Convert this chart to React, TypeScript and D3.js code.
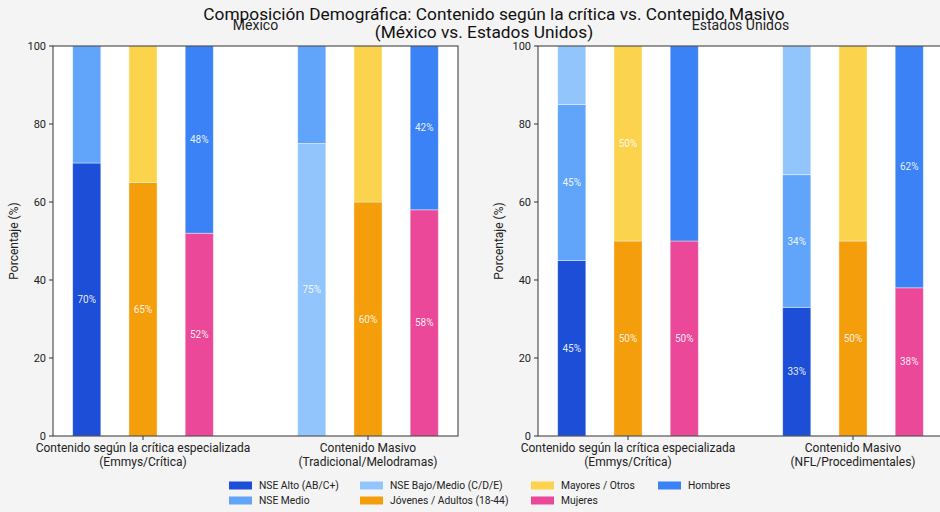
import React from "react";
import * as d3 from "d3";

// ---------- DATA ----------
const chartTitle = [
  "Composición Demográfica: Contenido según la crítica vs. Contenido Masivo",
  "(México vs. Estados Unidos)",
];
const countries = ["México", "Estados Unidos"];
const categoriesMX = [
  ["Contenido según la crítica especializada", "(Emmys/Crítica)"],
  ["Contenido Masivo", "(Tradicional/Melodramas)"],
];
const categoriesUS = [
  ["Contenido según la crítica especializada", "(Emmys/Crítica)"],
  ["Contenido Masivo", "(NFL/Procedimentales)"],
];
const yTicks = [0, 20, 40, 60, 80, 100];

const seriesKeys = [
  "NSE Alto (AB/C+)",
  "NSE Medio",
  "NSE Bajo/Medio (C/D/E)",
  "Jóvenes / Adultos (18-44)",
  "Mayores / Otros",
  "Mujeres",
  "Hombres",
];
const seriesColors = [
  "#1d4ed8",
  "#60a5fa",
  "#93c5fd",
  "#f59e0b",
  "#fcd34d",
  "#ec4899",
  "#3b82f6",
];

type Seg = { key: number; value: number; label: string };

// [bar] -> stacked segments (bottom to top)
const mexicoCritic: Seg[][] = [
  [ { key: 0, value: 70, label: "70%" }, { key: 1, value: 30, label: "" } ],
  [ { key: 3, value: 65, label: "65%" }, { key: 4, value: 35, label: "" } ],
  [ { key: 5, value: 52, label: "52%" }, { key: 6, value: 48, label: "48%" } ],
];
const mexicoMasivo: Seg[][] = [
  [ { key: 2, value: 75, label: "75%" }, { key: 1, value: 25, label: "" } ],
  [ { key: 3, value: 60, label: "60%" }, { key: 4, value: 40, label: "" } ],
  [ { key: 5, value: 58, label: "58%" }, { key: 6, value: 42, label: "42%" } ],
];
const usCritic: Seg[][] = [
  [ { key: 0, value: 45, label: "45%" }, { key: 1, value: 40, label: "45%" }, { key: 2, value: 15, label: "" } ],
  [ { key: 3, value: 50, label: "50%" }, { key: 4, value: 50, label: "50%" } ],
  [ { key: 5, value: 50, label: "50%" }, { key: 6, value: 50, label: "" } ],
];
const usMasivo: Seg[][] = [
  [ { key: 0, value: 33, label: "33%" }, { key: 1, value: 34, label: "34%" }, { key: 2, value: 33, label: "" } ],
  [ { key: 3, value: 50, label: "50%" }, { key: 4, value: 50, label: "" } ],
  [ { key: 5, value: 38, label: "38%" }, { key: 6, value: 62, label: "62%" } ],
];

const panels = [
  { title: countries[0], cats: categoriesMX, groups: [mexicoCritic, mexicoMasivo] },
  { title: countries[1], cats: categoriesUS, groups: [usCritic, usMasivo] },
];

// ---------- LAYOUT ----------
const W = 940;
const H = 512;
const FONT = "Roboto, 'Noto Sans', sans-serif";
const axW = 405;
const axTop = 46;
const axBottom = 436;
const axLefts = [53, 538];
const barOffsets = [-0.25, 0, 0.25];
const barWidth = 0.125;

function Panel({ left, panel }: { left: number; panel: typeof panels[number] }) {
  const x = d3.scaleLinear().domain([-0.4, 1.4]).range([left, left + axW]);
  const y = d3.scaleLinear().domain([0, 100]).range([axBottom, axTop]);
  const bw = x(barWidth) - x(0);
  const ink = "#333";
  return (
    <g>
      <rect x={left} y={axTop} width={axW} height={axBottom - axTop} fill="#fff" />
      {panel.groups.map((group, gi) =>
        group.map((bar, bi) => {
          let acc = 0;
          const cx = x(gi + barOffsets[bi]);
          return bar.map((seg, si) => {
            const y0 = acc;
            const y1 = acc + seg.value;
            acc = y1;
            return (
              <g key={`${gi}-${bi}-${si}`}>
                <rect
                  x={cx - bw / 2}
                  y={y(y1)}
                  width={bw}
                  height={y(y0) - y(y1)}
                  fill={seriesColors[seg.key]}
                  stroke="#fff"
                  strokeOpacity={0.5}
                  strokeWidth={0.8}
                />
                {seg.label && (
                  <text
                    x={cx}
                    y={y((y0 + y1) / 2)}
                    dy="0.35em"
                    textAnchor="middle"
                    fontSize={10}
                    fill="#fff"
                    fillOpacity={0.9}
                    fontFamily={FONT}
                  >
                    {seg.label}
                  </text>
                )}
              </g>
            );
          });
        })
      )}
      <rect
        x={left}
        y={axTop}
        width={axW}
        height={axBottom - axTop}
        fill="none"
        stroke={ink}
        strokeWidth={1}
      />
      {yTicks.map((t) => (
        <g key={t}>
          <line x1={left - 4} x2={left} y1={y(t)} y2={y(t)} stroke={ink} />
          <text
            x={left - 7}
            y={y(t)}
            dy="0.35em"
            textAnchor="end"
            fontSize={11}
            fill="#222"
            fontFamily={FONT}
          >
            {t}
          </text>
        </g>
      ))}
      {panel.cats.map((lines, gi) => (
        <g key={gi}>
          <line x1={x(gi)} x2={x(gi)} y1={axBottom} y2={axBottom + 4} stroke={ink} />
          {lines.map((ln, li) => (
            <text
              key={li}
              x={x(gi)}
              y={axBottom + 16 + li * 14}
              textAnchor="middle"
              fontSize={12}
              fill="#222"
              fontFamily={FONT}
            >
              {ln}
            </text>
          ))}
        </g>
      ))}
      <text
        transform={`translate(${left - 35},${(axTop + axBottom) / 2}) rotate(-90)`}
        textAnchor="middle"
        fontSize={12}
        fill="#222"
        fontFamily={FONT}
      >
        Porcentaje (%)
      </text>
      <text
        x={left + axW / 2}
        y={30}
        textAnchor="middle"
        fontSize={14}
        fill="#222"
        fontFamily={FONT}
      >
        {panel.title}
      </text>
    </g>
  );
}

const titleCenters = [494, 484];
const legendCols = [229, 360, 531, 658];
const legendRows = [485.5, 500.5];

export default function App() {
  return (
    <svg width={W} height={H} style={{ display: "block", position: "absolute", left: 0, top: 0 }}>
      <rect x={0} y={0} width={W} height={H} fill="#f4f4f4" />
      {panels.map((p, i) => (
        <Panel key={i} left={axLefts[i]} panel={p} />
      ))}
      {chartTitle.map((t, i) => (
        <text
          key={i}
          x={titleCenters[i]}
          y={20 + i * 17.5}
          textAnchor="middle"
          fontSize={17.3}
          fill="#111"
          fontFamily={FONT}
        >
          {t}
        </text>
      ))}
      {seriesKeys.map((k, i) => {
        const col = Math.floor(i / 2);
        const row = i % 2;
        const lx = legendCols[col];
        const ly = legendRows[row];
        return (
          <g key={k}>
            <rect x={lx} y={ly - 4} width={23} height={8} fill={seriesColors[i]} />
            <text x={lx + 30} y={ly} dy="0.35em" fontSize={10.3} fill="#222" fontFamily={FONT}>
              {k}
            </text>
          </g>
        );
      })}
    </svg>
  );
}
